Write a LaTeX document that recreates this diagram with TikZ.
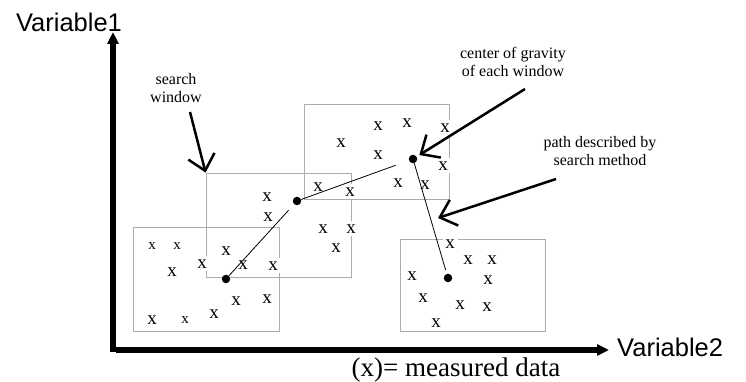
\documentclass[tikz,border=0pt]{standalone}
\usepackage{fontspec}
\setmainfont{Liberation Serif}
\setsansfont{Liberation Sans}
\usetikzlibrary{positioning,arrows.meta}

\tikzset{
  win/.style={draw=gray!65, line width=0.8pt, inner sep=0pt, minimum width=145pt},
  datum/.style={font=\fontsize{19}{19}\selectfont, fill=white, inner sep=0pt,
    minimum width=15pt, minimum height=15pt},
  smalldatum/.style={datum, font=\fontsize{15}{15}\selectfont},
  cog/.style={circle, fill=black, inner sep=0pt, minimum size=8.5pt},
  note/.style={font=\fontsize{16}{18}\selectfont, align=center},
  pointer/.style={-{Straight Barb[length=15pt,width=27pt]}, line width=2.5pt},
  axis/.style={-{Triangle[length=12pt,width=11pt]}, line width=5.5pt},
  axislbl/.style={font=\sffamily\fontsize{25.5}{28}\selectfont, inner sep=0pt},
}

\begin{document}
\begin{tikzpicture}[x=1pt,y=1pt]
  \useasboundingbox (0,0) rectangle (746,382);

  % search windows
  \node[win, minimum width=146pt, minimum height=104pt] (w1) at (206,103) {};
  \node[win, minimum height=104pt] (w2) at (278.5,157) {};
  \node[win, minimum height=95pt] (w3) at (376.5,230.5) {};
  \node[win, minimum height=92pt] (w4) at (472.5,97) {};

  % measured data
  \foreach \px/\py [count=\i] in {226/131, 172/110, 202/118, 243/117, 273/116,
      236/81, 267/83, 214/68, 152/62}
    \node[datum] (a\i) at (\px,\py) {x};
  \foreach \px/\py [count=\i] in {152/136, 177/136, 185/62}
    \node[smalldatum] (s\i) at (\px,\py) {x};
  \foreach \px/\py [count=\i] in {267/185, 268/165, 323/153, 351/153, 336/134}
    \node[datum] (b\i) at (\px,\py) {x};
  \foreach \px/\py [count=\i] in {378/256, 407/259, 445/254, 341/239, 378/227,
      443/216, 398/199, 425/197, 318/195, 350/190}
    \node[datum] (c\i) at (\px,\py) {x};
  \foreach \px/\py [count=\i] in {450/138, 468/122, 492/122, 412/106, 488/102,
      423/84, 460/77, 487/75, 436/59}
    \node[datum] (d\i) at (\px,\py) {x};

  % centres of gravity and the path between them
  \node[cog] (g1) at (226,103) {};
  \node[cog] (g2) at (297,181) {};
  \node[cog] (g3) at (413,223) {};
  \node[cog] (g4) at (448,104) {};
  \draw[line width=0.8pt, shorten >=8pt] (g1) -- (g2);
  \draw[line width=0.8pt, shorten >=14pt] (g2) -- (g3);
  \draw[line width=0.8pt, shorten >=4pt] (g3) -- (g4);

  % notes
  \node[note] (swlbl) at (176,294) {search\\window};
  \node[note] (cglbl) at (513,320) {center of gravity\\of each window};
  \node[note] (pdlbl) at (600,231) {path described by\\search method};

  \coordinate (swtail) at (190,270);
  \coordinate (cgtail) at (525,293);
  \coordinate (pdtail) at (556,203);
  \coordinate (pdtip) at (438,164);
  \draw[pointer] (swtail) -- (w2.north west);
  \draw[pointer, shorten >=3pt] (cgtail) -- (g3);
  \draw[pointer] (pdtail) -- (pdtip);

  % axes
  \coordinate (yfoot) at (113,30);
  \coordinate (ytip) at (113,350);
  \coordinate (xfoot) at (116,32);
  \coordinate (xtip) at (609,32);
  \draw[axis] (yfoot) -- (ytip);
  \draw[axis] (xfoot) -- (xtip);
  \node[axislbl, anchor=base] (var1) at (69,350) {Variable1};
  \node[axislbl, anchor=base west] (var2) at (617,25) {Variable2};
  \node[font=\fontsize{27}{30}\selectfont, anchor=base, inner sep=0pt] (legend)
    at (456,5) {(x)= measured data};
\end{tikzpicture}
\end{document}
